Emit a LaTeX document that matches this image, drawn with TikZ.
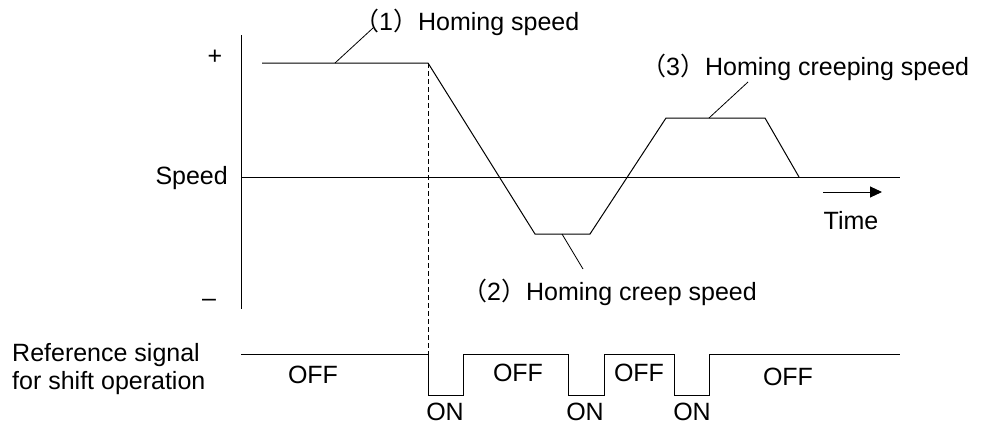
\documentclass[tikz,border=0pt]{standalone}
\usepackage{fontspec}
\setmainfont{Liberation Sans}
\newfontfamily\cjk{Noto Sans CJK SC}
\usetikzlibrary{positioning,arrows.meta}

\begin{document}
\begin{tikzpicture}[
		x=1pt, y=-1pt,
		lbl/.style={
			font=\fontsize{25}{28}\selectfont,
			inner sep=0pt
		},
		trace/.style={line width=1pt},
		leader/.style={line width=0.8pt},
		arrow/.style={-{Triangle[length=12pt,width=11pt]},line width=1pt}
		]
		
		\useasboundingbox (0,0) rectangle (982,426);
		
		% axes
		\draw[trace] (241,35) -- (241,309);
		\draw[trace] (241,177) -- (900,177);
		
		% speed
		\draw[trace] (262,63) -- (428,63) -- (535,234) -- (590,234)
		-- (666,118) -- (765,118) -- (799,177);
		\draw[dashed,line width=0.8pt,dash pattern=on 5pt off 3pt] (428,63) -- (428,354);
		
		% shift signal
		\draw[trace] (241,354) -- (428,354) -- (428,395) -- (463,395) -- (463,354)
		-- (568,354) -- (568,395) -- (604,395) -- (604,354)
		-- (674,354) -- (674,395) -- (709,395) -- (709,354) -- (900,354);
		
		\node[lbl] (plus) at (215,57) {+};
		\node[lbl] (minus) at (209,303) {–};
		\node[lbl,anchor=east] (speed) at (228,178) {Speed};
		\node[lbl,align=left,anchor=west] (ref) at (12,369)
		{Reference signal\\for shift operation};
		
		\node[lbl,anchor=west] (homing) at (354,22)
		{{\cjk（}1{\cjk）}Homing speed};
		\node[lbl,anchor=west] (creeping) at (641,67)
		{{\cjk（}3{\cjk）}Homing creeping speed};
		\node[lbl,anchor=west] (creep) at (462,292)
		{{\cjk（}2{\cjk）}Homing creep speed};
		
		\coordinate (h1) at (335,63);
		\coordinate (h2) at (373,28);
		\coordinate (c1) at (709,118);
		\coordinate (c2) at (748,82);
		\coordinate (p1) at (562,234);
		\coordinate (p2) at (583,269);
		\draw[leader] (h1) -- (h2);
		\draw[leader] (c1) -- (c2);
		\draw[leader] (p1) -- (p2);
		
		% time arrow
		\coordinate (ta) at (823,192);
		\coordinate (tb) at (882,192);
		\draw[arrow] (ta) -- (tb);
		\node[lbl] (time) at (851,221) {Time};
		
		\node[lbl] (off1) at (313,375) {OFF};
		\node[lbl] (off2) at (518,373) {OFF};
		\node[lbl] (off3) at (639,373) {OFF};
		\node[lbl] (off4) at (788,377) {OFF};
		\node[lbl] (on1) at (445,412) {ON};
		\node[lbl] (on2) at (585,412) {ON};
		\node[lbl] (on3) at (692,412) {ON};
		
	\end{tikzpicture}
\end{document}
